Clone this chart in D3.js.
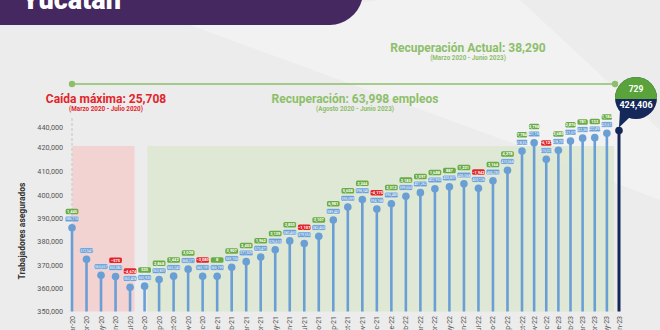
<!DOCTYPE html>
<html>
<head>
<meta charset="utf-8">
<script src="https://cdn.jsdelivr.net/npm/d3@7"></script>
<style>
  body { margin: 0; background: #ececec; }
  svg { display: block; font-family: Roboto, "Open Sans", sans-serif; }
</style>
</head>
<body>
<svg id="chart" width="660" height="330"></svg>
<script>
// months (Mar-20 .. Jun-23), insured workers and the change shown for the first month
const months = ["Mar-20","Abr-20","May-20","Jun-20","Jul-20","Ago-20","Sep-20","Oct-20","Nov-20","Dic-20",
  "Ene-21","Feb-21","Mar-21","Abr-21","May-21","Jun-21","Jul-21","Ago-21","Sep-21","Oct-21","Nov-21","Dic-21",
  "Ene-22","Feb-22","Mar-22","Abr-22","May-22","Jun-22","Jul-22","Ago-22","Sep-22","Oct-22","Nov-22","Dic-22",
  "Ene-23","Feb-23","Mar-23","Abr-23","May-23","Jun-23"];
const workers = [386116,372547,365657,365082,360408,360933,363801,365243,368271,365191,
  365199,369106,371509,373471,376610,380460,379353,382460,389441,395099,398343,394168,
  396480,399665,401262,402950,403837,405068,403126,406290,410568,418352,421150,415023,
  418703,421579,422360,422493,423677,424406];
const firstChange = 1445;
const noBadge = ["Abr-20", "May-20"];
const yTicks = [350000,360000,370000,380000,390000,400000,410000,420000,440000];

const svg = d3.select("#chart");
const fmt = d3.format(",");

// the original's axes are not even: x gets tighter on the right, y is stretched near the top
const x = d3.scaleLinear().domain([0, 31, 39]).range([72, 522, 619]);
const y = d3.scaleLinear()
  .domain([350000, 405000, 420000, 424406, 440000])
  .range([311.5, 184, 147, 130.5, 127.3]);

// background decoration
svg.append("polygon")
  .attr("points", "190,25 380,0 520,0 660,130 660,200 520,146")
  .attr("fill", "#ffffff").attr("opacity", 0.35);

// purple banner
svg.append("path")
  .attr("d", "M0,0 L362,0 A34,34 0 0 1 330,25 L0,25 Z")
  .attr("fill", "#45285f");
svg.append("text")
  .attr("x", 22).attr("y", 9)
  .attr("fill", "#fff").attr("font-size", 27).attr("font-weight", 900)
  .text("Yucatán");

// shaded periods
const base = y(350000);
svg.append("rect")
  .attr("x", x(0) + 0.5).attr("y", 146)
  .attr("width", x(4) - x(0) + 4).attr("height", base - 146)
  .attr("fill", "#f4cfcf").attr("opacity", 0.9);
svg.append("rect")
  .attr("x", x(5) + 3).attr("y", 146)
  .attr("width", x(39) - x(5) - 8).attr("height", base - 146)
  .attr("fill", "#dde8d2").attr("opacity", 0.9);

// dashed line at start
svg.append("line")
  .attr("x1", x(0)).attr("x2", x(0)).attr("y1", 118).attr("y2", base)
  .attr("stroke", "#bbb").attr("stroke-dasharray", "3,2").attr("stroke-width", 0.8);

// y axis labels
svg.append("g").selectAll("text")
  .data(yTicks).enter().append("text")
  .attr("x", 63).attr("y", d => y(d) + 2.5)
  .attr("text-anchor", "end").attr("font-size", 7.2).attr("fill", "#555")
  .text(d => fmt(d));

svg.append("text")
  .attr("transform", "translate(25,231) rotate(-90)")
  .attr("text-anchor", "middle").attr("font-size", 8.5).attr("font-weight", 700).attr("fill", "#333")
  .text("Trabajadores asegurados");

// x labels
svg.append("g").selectAll("text")
  .data(months).enter().append("text")
  .attr("transform", (d, i) => `translate(${x(i) + 2.5},316) rotate(-90)`)
  .attr("text-anchor", "end").attr("font-size", 7).attr("fill", "#555")
  .text(d => d);

// top annotations
const green = "#8dbf6b", red = "#e2242b";
svg.append("line")
  .attr("x1", x(0)).attr("x2", 615).attr("y1", 84).attr("y2", 84)
  .attr("stroke", green).attr("stroke-width", 1.5);
svg.append("circle").attr("cx", x(0)).attr("cy", 84).attr("r", 3.2).attr("fill", green);
svg.append("circle").attr("cx", 615).attr("cy", 84).attr("r", 3.2).attr("fill", green);

function note(cx, cy, title, sub, color) {
  svg.append("text").attr("x", cx).attr("y", cy)
    .attr("text-anchor", "middle").attr("font-size", 12).attr("font-weight", 700).attr("fill", color)
    .text(title);
  svg.append("text").attr("x", cx).attr("y", cy + 8)
    .attr("text-anchor", "middle").attr("font-size", 6.3).attr("font-weight", 700).attr("fill", color)
    .text(sub);
}
note(468, 52, "Recuperación Actual: 38,290", "(Marzo 2020 - Junio 2023)", green);
note(106, 103, "Caída máxima: 25,708", "(Marzo 2020 - Julio 2020)", red);
note(355, 103, "Recuperación: 63,998 empleos", "(Agosto 2020 - Junio 2023)", green);

// lollipops
const blue = "#6a9fd6", navy = "#14295a";
const last = workers.length - 1;
const pts = workers.map((v, i) => ({
  m: months[i], v, i,
  ch: i === 0 ? firstChange : v - workers[i - 1],
  // label width follows the spacing of the month
  w: Math.min(15, x(Math.min(i + 1, last)) - x(i) - 0.8)
}));

svg.append("g").selectAll("line")
  .data(pts).enter().append("line")
  .attr("x1", d => x(d.i)).attr("x2", d => x(d.i))
  .attr("y1", d => y(d.v)).attr("y2", base)
  .attr("stroke", d => d.i === last ? navy : blue)
  .attr("stroke-width", d => d.i === last ? 3 : 2.6);

svg.append("g").selectAll("circle")
  .data(pts).enter().append("circle")
  .attr("cx", d => x(d.i)).attr("cy", d => y(d.v)).attr("r", 3.8)
  .attr("fill", d => d.i === last ? navy : blue);

const lab = svg.append("g").selectAll("g")
  .data(pts.filter(d => d.i !== last)).enter().append("g")
  .attr("transform", d => `translate(${x(d.i)},${y(d.v)})`);

lab.append("rect")
  .attr("x", d => -d.w / 2).attr("y", -11.5).attr("width", d => d.w).attr("height", 5.5).attr("rx", 1.5)
  .attr("fill", blue).attr("stroke", "#fff").attr("stroke-width", 0.4);
lab.append("text")
  .attr("y", -7.3).attr("text-anchor", "middle").attr("font-size", d => d.w < 14 ? 3.5 : 4).attr("fill", "#fff")
  .text(d => fmt(d.v));

const badge = lab.filter(d => !noBadge.includes(d.m));
badge.append("rect")
  .attr("x", d => -(d.w - 1) / 2).attr("y", -19).attr("width", d => d.w - 1).attr("height", 5.5).attr("rx", 1.5)
  .attr("fill", d => d.ch < 0 ? red : "#6aab45");
badge.append("text")
  .attr("y", -14.8).attr("text-anchor", "middle").attr("font-size", 4).attr("font-weight", 700).attr("fill", "#fff")
  .text(d => fmt(d.ch));

// bubble for the last month
const bx = 636, by = 98, br = 21;
const lp = pts[last];
svg.append("path")
  .attr("d", `M${bx - 16},${by + 12} L${x(last)},${y(lp.v) - 3} L${bx - 6},${by + 19} Z`)
  .attr("fill", navy);
svg.append("clipPath").attr("id", "top")
  .append("rect").attr("x", bx - br).attr("y", by - br).attr("width", 2 * br).attr("height", br + 1);
svg.append("circle").attr("cx", bx).attr("cy", by).attr("r", br).attr("fill", navy);
svg.append("circle").attr("cx", bx).attr("cy", by).attr("r", br).attr("fill", "#5aa23a").attr("clip-path", "url(#top)");
svg.append("text").attr("x", bx).attr("y", by - 6)
  .attr("text-anchor", "middle").attr("font-size", 8.5).attr("font-weight", 700).attr("fill", "#fff")
  .text(fmt(lp.ch));
svg.append("text").attr("x", bx).attr("y", by + 10)
  .attr("text-anchor", "middle").attr("font-size", 9).attr("font-weight", 700).attr("fill", "#fff")
  .text(fmt(lp.v));
</script>
</body>
</html>
